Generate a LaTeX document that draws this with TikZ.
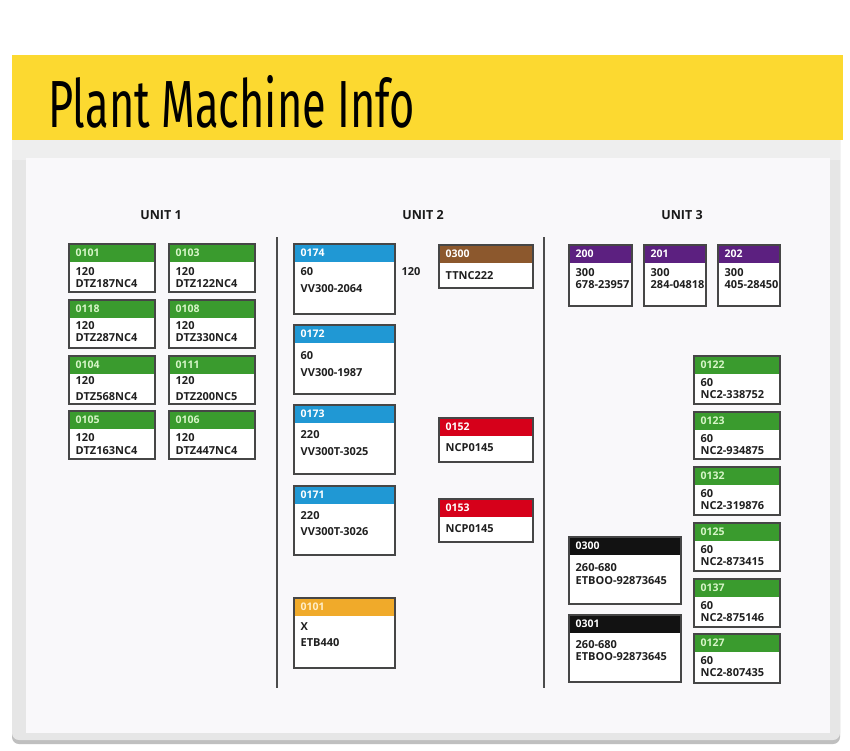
\documentclass[tikz,border=0pt]{standalone}
\usepackage{fontspec}
\usepackage{graphicx}
\setmainfont{Open Sans}
\newfontfamily\titlefont{Fira Sans}
\definecolor{cgreen}{RGB}{58,155,46}
\definecolor{cgreentxt}{RGB}{215,245,200}
\definecolor{cblue}{RGB}{32,152,212}
\definecolor{cbrown}{RGB}{140,88,45}
\definecolor{cred}{RGB}{214,0,26}
\definecolor{corange}{RGB}{240,170,42}
\definecolor{corangetxt}{RGB}{255,238,200}
\definecolor{cpurple}{RGB}{92,32,128}
\definecolor{cblack}{RGB}{18,18,18}
\definecolor{cyellow}{RGB}{252,217,48}
\definecolor{frame}{RGB}{230,230,230}
\definecolor{frameband}{RGB}{238,238,238}
\definecolor{board}{RGB}{249,248,250}
\definecolor{edge}{RGB}{70,70,70}
\tikzset{
  mbox/.style={draw=edge, line width=1.1pt, fill=white, inner sep=0pt, outer sep=0pt},
  boxline/.style={draw=edge, line width=1.1pt},
  hdrtext/.style={font=\fontsize{10.5}{12}\selectfont\bfseries, inner sep=0pt},
  bodytext/.style={font=\fontsize{11}{13}\selectfont\bfseries, text=black!88, inner sep=0pt},
  hg/.style={fill=cgreen}, hg text/.style={text=cgreentxt},
  hb/.style={fill=cblue}, hb text/.style={text=white},
  hn/.style={fill=cbrown}, hn text/.style={text=white},
  hr/.style={fill=cred}, hr text/.style={text=white},
  ho/.style={fill=corange}, ho text/.style={text=corangetxt},
  hp/.style={fill=cpurple}, hp text/.style={text=white},
  hk/.style={fill=cblack}, hk text/.style={text=white},
  unitlabel/.style={font=\fontsize{12.5}{14}\selectfont\bfseries, text=black!90, inner sep=0pt},
  divider/.style={draw=black!70, line width=1.2pt}
}
% #1 name, #2 x, #3 y, #4 w, #5 h, #6 header style, #7 header text, #8 lines
\newcommand\machine[8]{%
  \node[mbox, minimum width=#4pt, minimum height=#5pt, anchor=north west] (#1) at (#2,#3) {};
  \fill[#6] (#1.north west) rectangle ([yshift=-18pt]#1.north east);
  \draw[boxline] (#1.north west) rectangle (#1.south east);
  \node[hdrtext, #6 text, anchor=west] (#1h) at ([xshift=6.5pt,yshift=-9pt]#1.north west) {#7};
  \foreach \yy/\tt [count=\k] in {#8}
    \node[bodytext, anchor=west] (#1t\k) at ([xshift=6.5pt,yshift=-\yy pt]#1.north west) {\tt};
}
\begin{document}
\begin{tikzpicture}[x=1pt,y=-1pt]
\useasboundingbox (0,0) rectangle (850,750);
\fill[white] (0,0) rectangle (850,750);
% whiteboard frame
\fill[black!25, rounded corners=7pt] (12,130) rectangle (840,744);
\fill[frame, rounded corners=7pt] (12,130) rectangle (840,740);
\fill[frameband] (12,140) rectangle (840,160);
\fill[board] (26,158) rectangle (830,733);
% yellow band
\fill[cyellow] (12,55) rectangle (843,140);
\node[anchor=south west, inner sep=0pt] (title) at (48,128)
  {\resizebox{367pt}{52pt}{\titlefont Plant Machine Info}};
% unit labels
\node[unitlabel] (unit1) at (161,215) {UNIT 1};
\node[unitlabel] (unit2) at (423,215) {UNIT 2};
\node[unitlabel] (unit3) at (682,215) {UNIT 3};
% dividers
\coordinate (d1a) at (277,237); \coordinate (d1b) at (277,688);
\coordinate (d2a) at (544,237); \coordinate (d2b) at (544,688);
\draw[divider] (d1a) -- (d1b);
\draw[divider] (d2a) -- (d2b);
% Unit 1
\machine{u1a}{69}{244}{86}{48}{hg}{0101}{28/120,40/DTZ187NC4}
\machine{u1b}{169}{244}{86}{48}{hg}{0103}{28/120,40/DTZ122NC4}
\machine{u1c}{69}{300}{86}{48}{hg}{0118}{26/120,38/DTZ287NC4}
\machine{u1d}{169}{300}{86}{48}{hg}{0108}{26/120,38/DTZ330NC4}
\machine{u1e}{69}{356}{86}{48}{hg}{0104}{25/120,41/DTZ568NC4}
\machine{u1f}{169}{356}{86}{48}{hg}{0111}{25/120,41/DTZ200NC5}
\machine{u1g}{69}{411}{86}{48}{hg}{0105}{27/120,40/DTZ163NC4}
\machine{u1h}{169}{411}{86}{48}{hg}{0106}{27/120,40/DTZ447NC4}
% Unit 2
\machine{b174}{294}{244}{101}{70}{hb}{0174}{28/60,45/VV300-2064}
\machine{b172}{294}{325}{101}{69}{hb}{0172}{31/60,48/VV300-1987}
\machine{b173}{294}{405}{101}{69}{hb}{0173}{30/220,47/VV300T-3025}
\machine{b171}{294}{486}{101}{69}{hb}{0171}{30/220,46/VV300T-3026}
\machine{o101}{294}{598}{101}{70}{ho}{0101}{29/X,45/ETB440}
\machine{n300}{439}{245}{94}{43}{hn}{0300}{31/TTNC222}
\machine{r152}{439}{418}{94}{44}{hr}{0152}{30/NCP0145}
\machine{r153}{439}{499}{94}{43}{hr}{0153}{30/NCP0145}
\node[bodytext] (lbl120) at (411,272) {120};
% Unit 3
\machine{p200}{569}{245}{63}{61}{hp}{200}{28/300,40/678-23957}
\machine{p201}{644}{245}{62}{61}{hp}{201}{28/300,40/284-04818}
\machine{p202}{718}{245}{62}{61}{hp}{202}{28/300,40/405-28450}
\machine{g122}{694}{356}{86}{48}{hg}{0122}{27/60,39/NC2-338752}
\machine{g123}{694}{412}{86}{47}{hg}{0123}{27/60,39/NC2-934875}
\machine{g132}{694}{467}{86}{48}{hg}{0132}{27/60,39/NC2-319876}
\machine{g125}{694}{523}{86}{48}{hg}{0125}{27/60,39/NC2-873415}
\machine{g137}{694}{579}{86}{48}{hg}{0137}{27/60,39/NC2-875146}
\machine{g127}{694}{634}{86}{49}{hg}{0127}{27/60,39/NC2-807435}
\machine{k300}{569}{537}{112}{67}{hk}{0300}{31/260-680,44/ETBOO-92873645}
\machine{k301}{569}{615}{112}{67}{hk}{0301}{30/260-680,42/ETBOO-92873645}
\end{tikzpicture}
\end{document}
